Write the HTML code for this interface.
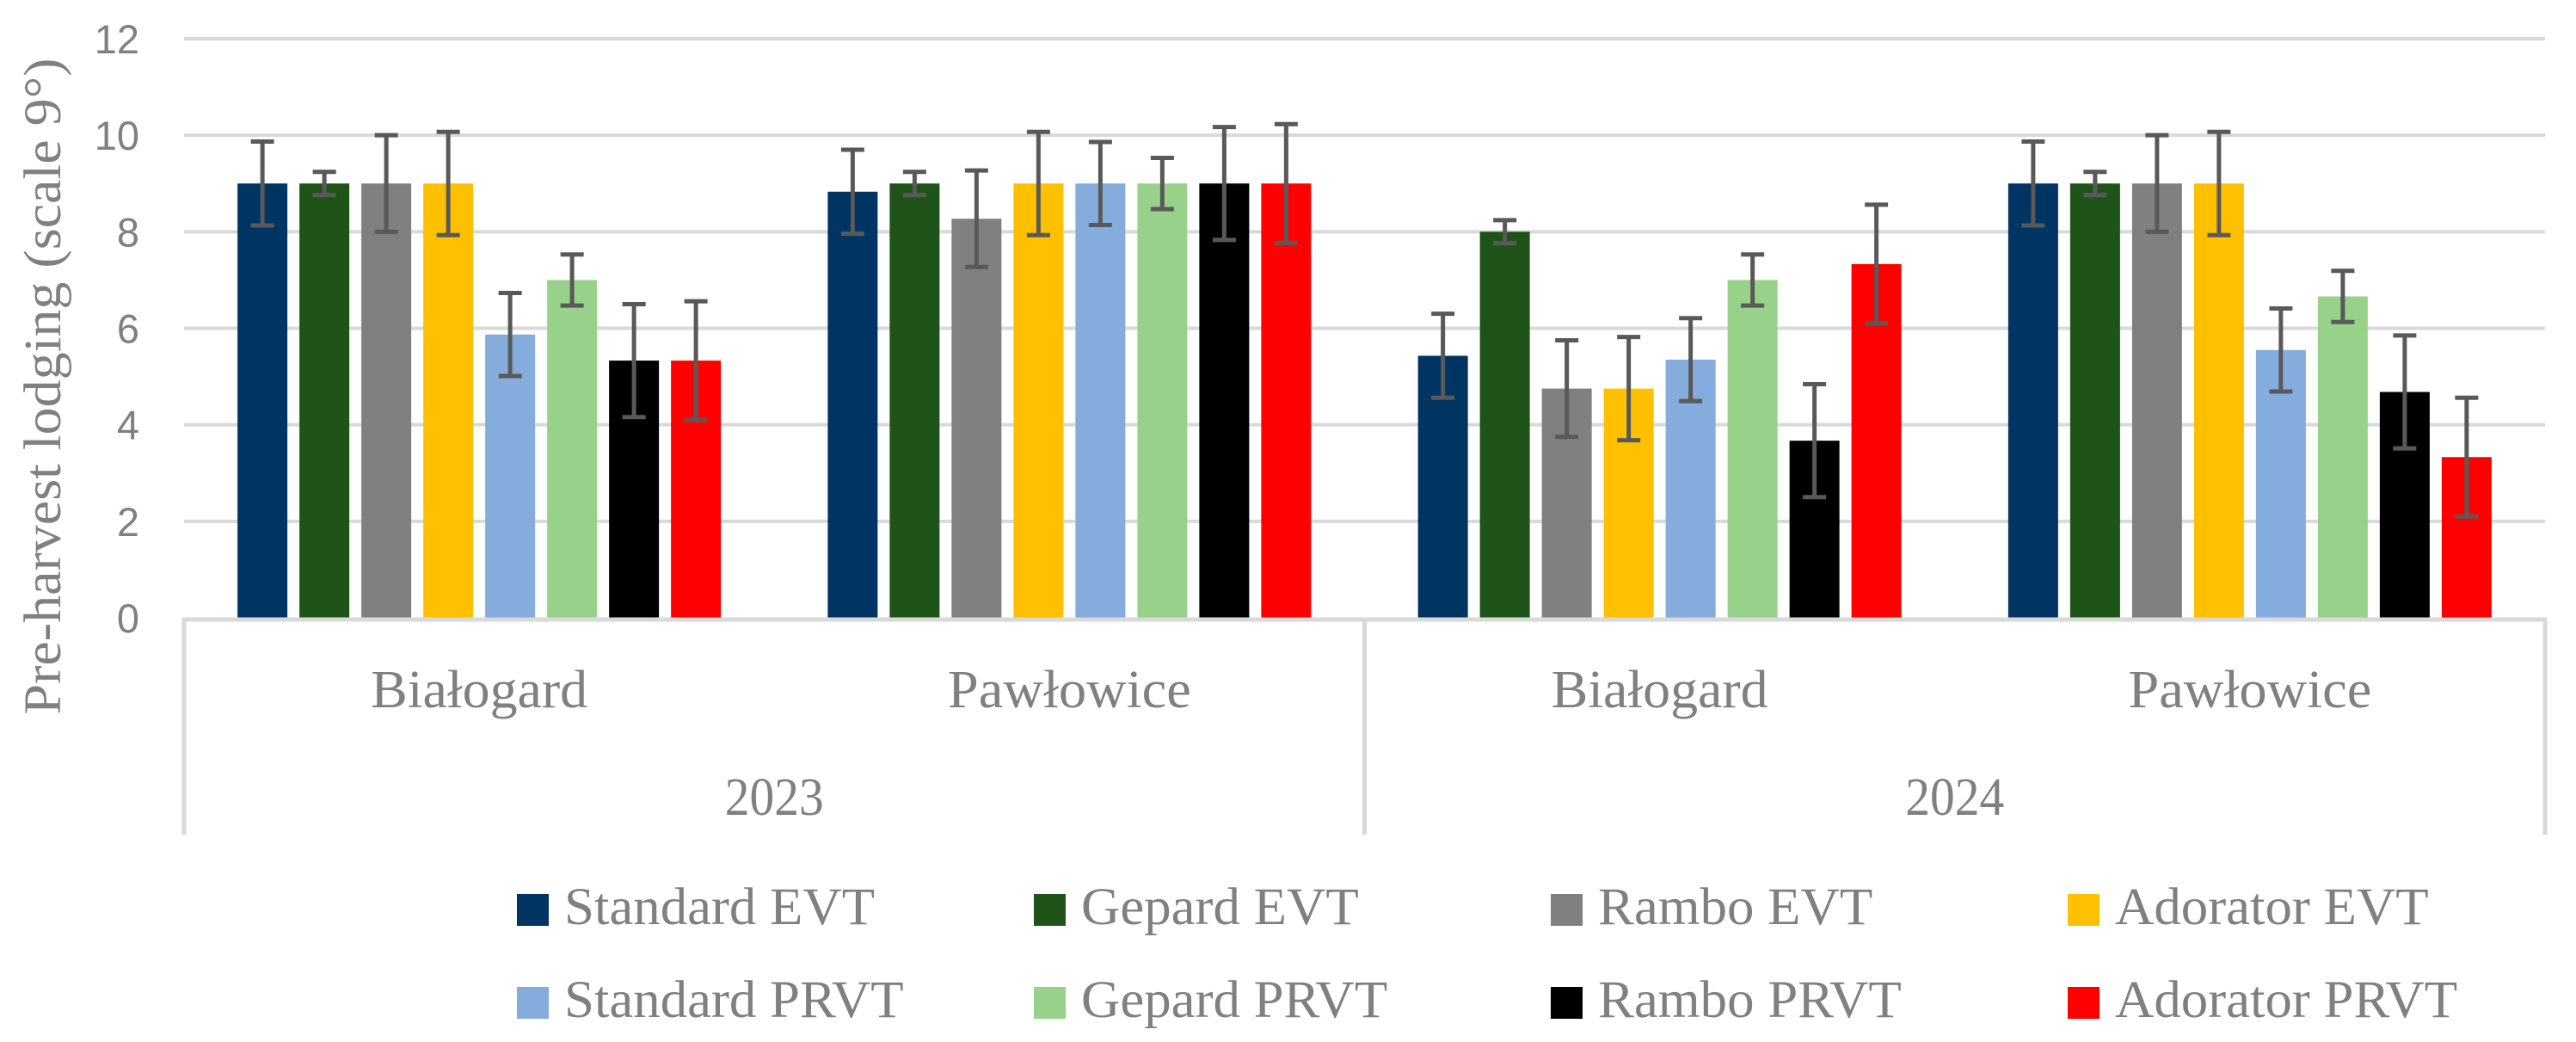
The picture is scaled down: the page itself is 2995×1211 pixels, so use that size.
<!DOCTYPE html>
<html><head><meta charset="utf-8"><style>
html,body{margin:0;padding:0;background:#fff;}
svg{display:block;}
</style></head><body>
<svg id="chart" width="2995" height="1211" viewBox="0 0 2995 1211" xmlns="http://www.w3.org/2000/svg">
<g id="grid"></g>
<g id="yticks"></g>
<g id="bars"></g>
<g id="axis"></g>
<g id="legend"></g>
<text transform="translate(70,449) rotate(-90)" text-anchor="middle" font-family="Liberation Serif, serif" font-size="61" fill="#808080" textLength="763" lengthAdjust="spacingAndGlyphs">Pre-harvest lodging (scale 9°)</text>
</svg>
<script>
const categories = ["Białogard","Pawłowice","Białogard","Pawłowice"];
const years = ["2023","2024"];
const seriesNames = ["Standard EVT","Gepard EVT","Rambo EVT","Adorator EVT","Standard PRVT","Gepard PRVT","Rambo PRVT","Adorator PRVT"];
const seriesColors = ["#003462","#1f5419","#808080","#ffc000","#84acdd","#98d28a","#000000","#ff0000"];
const standardEVT = [9, 8.83, 5.43, 9];
const gepardEVT = [9, 9, 8, 9];
const ramboEVT = [9, 8.27, 4.75, 9];
const adoratorEVT = [9, 9, 4.75, 9];
const standardPRVT = [5.87, 9, 5.35, 5.55];
const gepardPRVT = [7, 9, 7, 6.66];
const ramboPRVT = [5.33, 9, 3.67, 4.68];
const adoratorPRVT = [5.33, 9, 7.33, 3.33];
const errStandardEVT = [0.87, 0.87, 0.87, 0.87];
const errGepardEVT = [0.24, 0.24, 0.24, 0.24];
const errRamboEVT = [1.0, 1.0, 1.0, 1.0];
const errAdoratorEVT = [1.07, 1.07, 1.07, 1.07];
const errStandardPRVT = [0.86, 0.86, 0.86, 0.86];
const errGepardPRVT = [0.53, 0.53, 0.53, 0.53];
const errRamboPRVT = [1.17, 1.17, 1.17, 1.17];
const errAdoratorPRVT = [1.23, 1.23, 1.23, 1.23];
const yTicks = [0, 2, 4, 6, 8, 10, 12];

const values = [standardEVT, gepardEVT, ramboEVT, adoratorEVT, standardPRVT, gepardPRVT, ramboPRVT, adoratorPRVT];
const errors = [errStandardEVT, errGepardEVT, errRamboEVT, errAdoratorEVT, errStandardPRVT, errGepardPRVT, errRamboPRVT, errAdoratorPRVT];

const NS = "http://www.w3.org/2000/svg";
const X0 = 214, X1 = 2959, Y0 = 718, YTOP = 45, YMAX = 12;
const catW = (X1 - X0) / categories.length;
function y(v){ return Y0 - (v / YMAX) * (Y0 - YTOP); }
function catCenter(i){ return X0 + catW * (i + 0.5); }
const barW = 58, pitch = 72;
function barX(c, s){ return catCenter(c) - (seriesNames.length * pitch - (pitch - barW)) / 2 + s * pitch; }
function mk(tag, attrs, parent){
  const e = document.createElementNS(NS, tag);
  for (const k in attrs) e.setAttribute(k, attrs[k]);
  parent.appendChild(e);
  return e;
}
const grid = document.getElementById("grid");
const yt = document.getElementById("yticks");
yTicks.forEach(t => {
  if (t > 0) {
    const l = mk("line", {x1: X0, x2: X1, y1: y(t), y2: y(t), stroke: "#d9d9d9", "stroke-width": 4}, grid);
    
    
  }
  const tx = mk("text", {x: 162, y: y(t) + 17, "text-anchor": "end", "font-family": "Liberation Sans, sans-serif", "font-size": 47, fill: "#808080"}, yt);
  tx.textContent = t;
  
  
});
const bars = document.getElementById("bars");
values.forEach((arr, s) => {
  arr.forEach((v, c) => {
    const x = barX(c, s);
    const r = mk("rect", {x: x, y: y(v), width: barW, height: Y0 - y(v), fill: seriesColors[s]}, bars);
    
    
    const e = errors[s][c];
    const cx = x + barW / 2;
    const g = mk("g", {stroke: "#595959", "stroke-width": 5}, bars);
    
    
    mk("line", {x1: cx, x2: cx, y1: y(v + e), y2: y(v - e)}, g);
    mk("line", {x1: cx - 13.5, x2: cx + 13.5, y1: y(v + e), y2: y(v + e)}, g);
    mk("line", {x1: cx - 13.5, x2: cx + 13.5, y1: y(v - e), y2: y(v - e)}, g);
  });
});
const ax = document.getElementById("axis");
const base = mk("line", {x1: X0 - 2, x2: X1 + 2, y1: Y0 + 2, y2: Y0 + 2, stroke: "#d9d9d9", "stroke-width": 5}, ax);


[X0, (X0 + X1) / 2, X1].forEach(xx => {
  const l = mk("line", {x1: xx, x2: xx, y1: Y0, y2: 970, stroke: "#d9d9d9", "stroke-width": 5}, ax);
  
  
});
const catLens = [252, 283, 252, 283];
categories.forEach((name, c) => {
  const t = mk("text", {x: catCenter(c), y: 822, "text-anchor": "middle", "font-family": "Liberation Serif, serif", "font-size": 62, fill: "#808080", textLength: catLens[c], lengthAdjust: "spacingAndGlyphs"}, ax);
  t.textContent = name;
  
  
});
years.forEach((yr, i) => {
  const t = mk("text", {x: X0 + (X1 - X0) / 4 * (2 * i + 1), y: 947, "text-anchor": "middle", "font-family": "Liberation Serif, serif", "font-size": 62, fill: "#808080", textLength: 115, lengthAdjust: "spacingAndGlyphs"}, ax);
  t.textContent = yr;
  
  
});
const lg = document.getElementById("legend");
seriesNames.forEach((name, s) => {
  const col = s % 4, row = Math.floor(s / 4);
  const sx = 601 + col * 601, sy = row === 0 ? 1039 : 1147;
  const g = mk("g", {}, lg);
  
  
  mk("rect", {x: sx, y: sy, width: 37, height: 37, fill: seriesColors[s]}, g);
  const t = mk("text", {x: sx + 55, y: sy + 35, "font-family": "Liberation Serif, serif", "font-size": 61, fill: "#808080"}, g);
  t.textContent = name;
  const w = t.getComputedTextLength();
  if (w > 0) { t.setAttribute("textLength", (w * 1.03).toFixed(1)); t.setAttribute("lengthAdjust", "spacingAndGlyphs"); }
});
</script>
</body></html>
